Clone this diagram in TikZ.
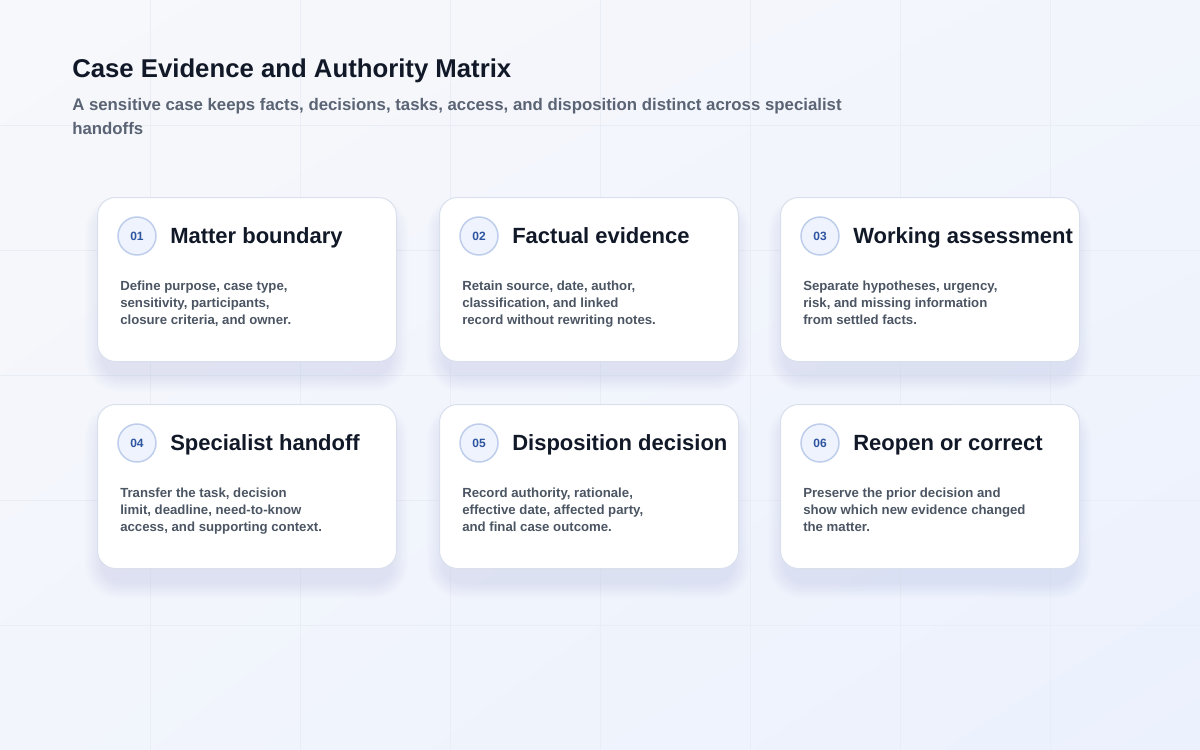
\documentclass[tikz,border=0pt]{standalone}
\usepackage{fontspec}
\setmainfont{Liberation Sans}
\usetikzlibrary{calc,shadings}

\definecolor{bgtl}{HTML}{F7F8FB}
\definecolor{bgtr}{HTML}{F2F5FC}
\definecolor{bgbl}{HTML}{F2F5FC}
\definecolor{bgbr}{HTML}{EBF1FD}
\definecolor{gridc}{HTML}{E9EDF5}
\definecolor{shadowc}{HTML}{AEB8D3}
\definecolor{cardline}{HTML}{D9E0EC}
\definecolor{numfill}{HTML}{EEF3FD}
\definecolor{numline}{HTML}{BDCDEB}
\definecolor{numtext}{HTML}{2E55A0}
\definecolor{inkc}{HTML}{111827}
\definecolor{subc}{HTML}{5B6474}
\definecolor{bodyc}{HTML}{4B5563}

\tikzset{
    card/.style={draw=cardline, line width=0.75pt, fill=white, rounded corners=13.5pt,
        minimum width=224.25pt, minimum height=123pt, anchor=north west, inner sep=0pt},
    numdot/.style={circle, draw=numline, line width=1.1pt, fill=numfill, minimum size=28.5pt,
        inner sep=0pt, text=numtext, font=\fontsize{9}{9}\selectfont\bfseries},
    cardhead/.style={anchor=base west, inner sep=0pt, text=inkc,
        font=\fontsize{16.5}{18}\selectfont\bfseries},
    cardbody/.style={anchor=north west, inner sep=0pt, align=left, text=bodyc,
        font=\fontsize{9.9}{12.75}\selectfont\bfseries}
}

\begin{document}
\begin{tikzpicture}[x=0.75pt,y=-0.75pt]
    % 背景
    \shade[upper left=bgtl, upper right=bgtr, lower left=bgbl, lower right=bgbr] (0,0) rectangle (1200,750);
    \useasboundingbox (0,0) rectangle (1200,750);
    \foreach \gx in {150,300,...,1050} \draw[gridc, line width=0.75pt] (\gx,0) -- (\gx,750);
    \foreach \gy in {125,250,...,625} \draw[gridc, line width=0.75pt] (0,\gy) -- (1200,\gy);

    % 标题
    \node[anchor=base west, inner sep=0pt, text=inkc, font=\fontsize{19.3}{22}\selectfont\bfseries]
        (title) at (72,77) {Case Evidence and Authority Matrix};
    \node[anchor=north west, inner sep=0pt, align=left, text=subc, font=\fontsize{12.6}{18}\selectfont\bfseries]
        (subtitle) at (72,98.5) {A sensitive case keeps facts, decisions, tasks, access, and disposition distinct across specialist\\handoffs};

    % 卡片位置
    \coordinate (P1) at (97,197);
    \coordinate (P2) at (439,197);
    \coordinate (P3) at (780,197);
    \coordinate (P4) at (97,404);
    \coordinate (P5) at (439,404);
    \coordinate (P6) at (780,404);

    % 阴影
    \foreach \p in {P1,P2,P3,P4,P5,P6}
        \foreach \s in {1,...,10}
            \fill[shadowc, opacity=0.025, rounded corners=13.5pt+1.2pt*\s]
                ($(\p)+(6-1.8*\s,16-1.6*\s)$) rectangle ($(\p)+(293+1.8*\s,164+14+1.6*\s)$);

    % 卡片
    \node[card] (card1) at (P1) {};
    \node[card] (card2) at (P2) {};
    \node[card] (card3) at (P3) {};
    \node[card] (card4) at (P4) {};
    \node[card] (card5) at (P5) {};
    \node[card] (card6) at (P6) {};

    % 编号
    \node[numdot] (num1) at ($(card1.north west)+(40,39)$) {01};
    \node[numdot] (num2) at ($(card2.north west)+(40,39)$) {02};
    \node[numdot] (num3) at ($(card3.north west)+(40,39)$) {03};
    \node[numdot] (num4) at ($(card4.north west)+(40,39)$) {04};
    \node[numdot] (num5) at ($(card5.north west)+(40,39)$) {05};
    \node[numdot] (num6) at ($(card6.north west)+(40,39)$) {06};

    % 小标题
    \node[cardhead] (head1) at ($(card1.north west)+(73,46)$) {Matter boundary};
    \node[cardhead] (head2) at ($(card2.north west)+(73,46)$) {Factual evidence};
    \node[cardhead] (head3) at ($(card3.north west)+(73,46)$) {Working assessment};
    \node[cardhead] (head4) at ($(card4.north west)+(73,46)$) {Specialist handoff};
    \node[cardhead] (head5) at ($(card5.north west)+(73,46)$) {Disposition decision};
    \node[cardhead] (head6) at ($(card6.north west)+(73,46)$) {Reopen or correct};

    % 说明文字
    \node[cardbody] (body1) at ($(card1.north west)+(23,84)$) {Define purpose, case type,\\sensitivity, participants,\\closure criteria, and owner.};
    \node[cardbody] (body2) at ($(card2.north west)+(23,84)$) {Retain source, date, author,\\classification, and linked\\record without rewriting notes.};
    \node[cardbody] (body3) at ($(card3.north west)+(23,84)$) {Separate hypotheses, urgency,\\risk, and missing information\\from settled facts.};
    \node[cardbody] (body4) at ($(card4.north west)+(23,84)$) {Transfer the task, decision\\limit, deadline, need-to-know\\access, and supporting context.};
    \node[cardbody] (body5) at ($(card5.north west)+(23,84)$) {Record authority, rationale,\\effective date, affected party,\\and final case outcome.};
    \node[cardbody] (body6) at ($(card6.north west)+(23,84)$) {Preserve the prior decision and\\show which new evidence changed\\the matter.};
\end{tikzpicture}
\end{document}
